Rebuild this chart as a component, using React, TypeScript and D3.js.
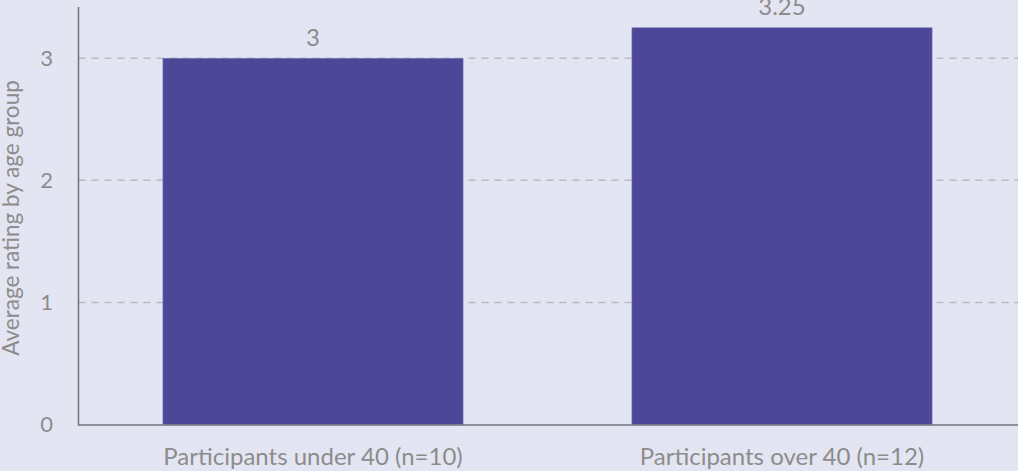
import React from "react";
import * as d3 from "d3";

const categories = ["Participants under 40 (n=10)", "Participants over 40 (n=12)"];
const values = [3, 3.25];
const valueLabels = ["3", "3.25"];
const yTicks = [0, 1, 2, 3];

const W = 1018;
const H = 471;
const FONT = "Lato, 'Open Sans', sans-serif";

export default function App() {
  const x = d3.scaleBand<string>().domain(categories).range([78.5, 1016.5]).paddingInner(0.36).paddingOuter(0.18);
  const y = d3.scaleLinear().domain([0, 3.42]).range([424.5, 7]);
  return (
    <svg width={W} height={H} style={{ position: "absolute", left: 0, top: 0, background: "#e4e5f2", fontFamily: FONT }}>
      <rect x={0} y={0} width={W} height={H} fill="#e4e5f2" />
      {yTicks.filter((t) => t > 0).map((t) => (
        <line key={t} x1={78.5} x2={W} y1={y(t)} y2={y(t)} stroke="#b9bac6" strokeWidth={1.5} strokeDasharray="7,6" />
      ))}
      {categories.map((c, i) => (
        <rect key={c} x={x(c)} y={y(values[i])} width={x.bandwidth()} height={y(0) - y(values[i])} fill="#4c4897" stroke="#7b79b8" strokeWidth={0.6} />
      ))}
      {categories.map((c, i) => (
        <text key={c + "v"} x={(x(c) as number) + x.bandwidth() / 2} y={y(values[i]) - 12.5} textAnchor="middle" fontSize={24} fill="#8c8c8c">
          {valueLabels[i]}
        </text>
      ))}
      <line x1={78.5} x2={78.5} y1={7} y2={425.5} stroke="#6f737c" strokeWidth={1.5} />
      <line x1={78} x2={W} y1={425} y2={425} stroke="#6f737c" strokeWidth={1.5} />
      {yTicks.map((t) => (
        <text key={t} x={53} y={y(t)} dy="0.35em" textAnchor="end" fontSize={22} fill="#8c8c8c">
          {t}
        </text>
      ))}
      {categories.map((c) => (
        <text key={c + "l"} x={(x(c) as number) + x.bandwidth() / 2} y={465} textAnchor="middle" fontSize={24} fill="#8c8c8c">
          {c}
        </text>
      ))}
      <text transform={`translate(19,218) rotate(-90)`} textAnchor="middle" fontSize={22.5} fill="#8c8c8c">
        Average rating by age group
      </text>
    </svg>
  );
}
